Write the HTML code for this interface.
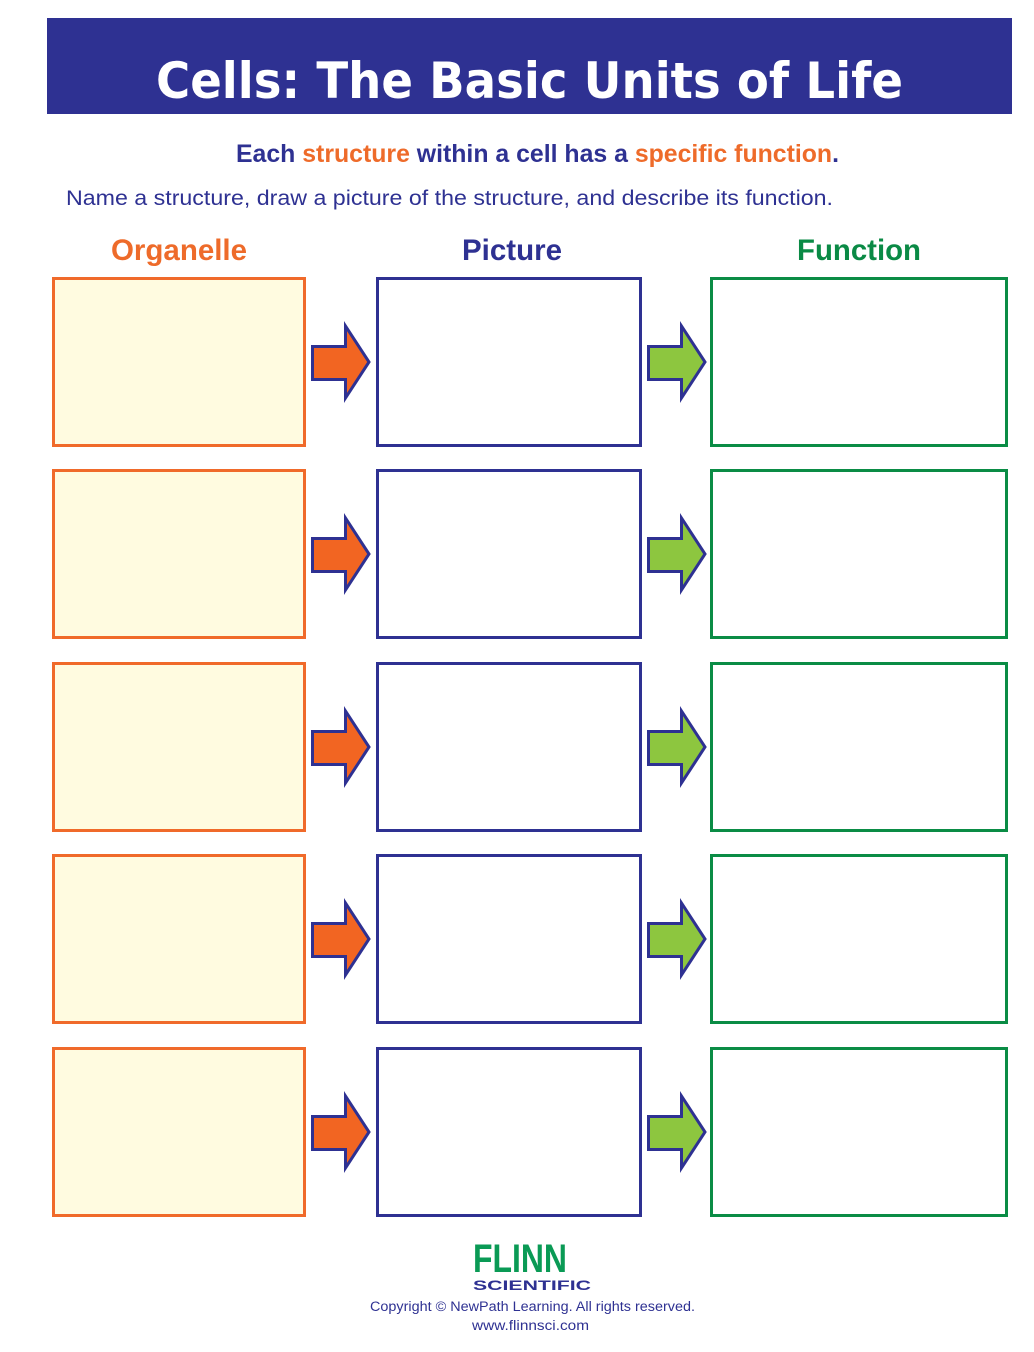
<!DOCTYPE html>
<html>
<head>
<meta charset="utf-8">
<style>
  html,body{margin:0;padding:0;background:#fff;}
  svg{display:block;}
</style>
</head>
<body>
<svg width="1034" height="1352" viewBox="0 0 1034 1352" xmlns="http://www.w3.org/2000/svg">
  <defs>
    <g id="row">
      <rect x="53.5" y="1.5" width="251" height="167" fill="#FFFBE0" stroke="#F06A2A" stroke-width="3"/>
      <rect x="377.5" y="1.5" width="263" height="167" fill="#FFFFFF" stroke="#2E3192" stroke-width="3"/>
      <rect x="711.5" y="1.5" width="295" height="167" fill="#FFFFFF" stroke="#0A8C45" stroke-width="3"/>
      <polygon points="312.5,69.5 345.5,69.5 345.5,49 369,85 345.5,121 345.5,102.5 312.5,102.5" fill="#F26522" stroke="#2E3192" stroke-width="3" stroke-linejoin="miter"/>
      <polygon points="648.5,69.5 681.5,69.5 681.5,49 705,85 681.5,121 681.5,102.5 648.5,102.5" fill="#8DC63F" stroke="#2E3192" stroke-width="3" stroke-linejoin="miter"/>
    </g>
  </defs>

  <!-- header -->
  <rect x="47" y="18" width="965" height="96" fill="#2E3192"/>
  <text x="156" y="98" font-family="'DejaVu Sans', 'Liberation Sans', sans-serif" font-weight="bold" font-size="50" fill="#FFFFFF" textLength="747" lengthAdjust="spacingAndGlyphs">Cells: The Basic Units of Life</text>

  <!-- subtitle -->
  <text x="236" y="162" font-family="'Liberation Sans', sans-serif" font-weight="bold" font-size="24.9" fill="#2E3192" textLength="603" lengthAdjust="spacingAndGlyphs">Each <tspan fill="#EE6B2A">structure</tspan> within a cell has a <tspan fill="#EE6B2A">specific function</tspan>.</text>

  <text x="66" y="205" font-family="'Liberation Sans', sans-serif" font-size="21.5" fill="#2E3192" textLength="767" lengthAdjust="spacingAndGlyphs">Name a structure, draw a picture of the structure, and describe its function.</text>

  <!-- column headings -->
  <text x="111" y="260" font-family="'Liberation Sans', sans-serif" font-weight="bold" font-size="29.5" fill="#EE6B2A" textLength="136" lengthAdjust="spacingAndGlyphs">Organelle</text>
  <text x="462" y="260" font-family="'Liberation Sans', sans-serif" font-weight="bold" font-size="29.5" fill="#2E3192" textLength="100" lengthAdjust="spacingAndGlyphs">Picture</text>
  <text x="797" y="260" font-family="'Liberation Sans', sans-serif" font-weight="bold" font-size="29.5" fill="#0A8A45" textLength="124" lengthAdjust="spacingAndGlyphs">Function</text>

  <!-- rows -->
  <use href="#row" x="0" y="277"/>
  <use href="#row" x="0" y="469"/>
  <use href="#row" x="0" y="662"/>
  <use href="#row" x="0" y="854"/>
  <use href="#row" x="0" y="1047"/>

  <!-- footer -->
  <text x="473" y="1272" font-family="'Liberation Sans', sans-serif" font-weight="bold" font-size="40" fill="#0A9A55" textLength="94" lengthAdjust="spacingAndGlyphs">FLINN</text>
  <text x="473" y="1290" font-family="'Liberation Sans', sans-serif" font-weight="bold" font-size="14" fill="#2E3192" textLength="118" lengthAdjust="spacingAndGlyphs">SCIENTIFIC</text>
  <text x="370" y="1311" font-family="'Liberation Sans', sans-serif" font-size="13.5" fill="#2E3192" textLength="325" lengthAdjust="spacingAndGlyphs">Copyright © NewPath Learning. All rights reserved.</text>
  <text x="472" y="1330" font-family="'Liberation Sans', sans-serif" font-size="13.5" fill="#2E3192" textLength="117" lengthAdjust="spacingAndGlyphs">www.flinnsci.com</text>
</svg>
</body>
</html>
